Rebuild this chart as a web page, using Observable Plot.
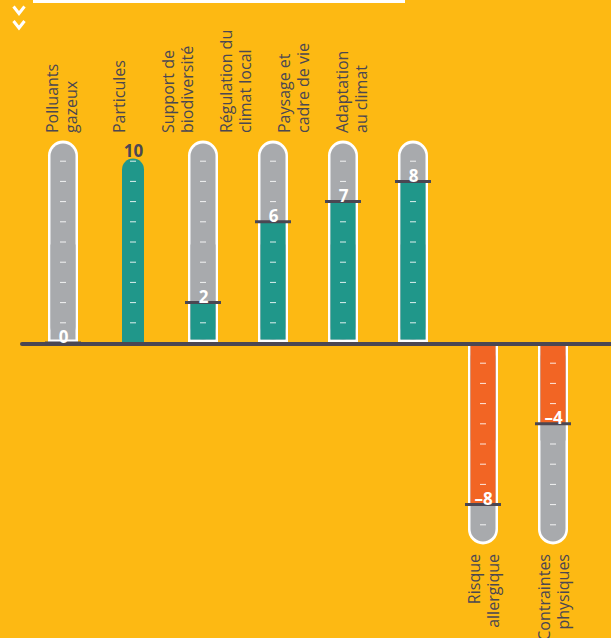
<!DOCTYPE html>
<html><head><meta charset="utf-8">
<script src="https://cdn.jsdelivr.net/npm/d3@7"></script>
<script src="https://cdn.jsdelivr.net/npm/@observablehq/plot@0.6"></script>
<style>
html,body{margin:0;padding:0;background:#FDB913;}
#wrap{position:relative;width:611px;height:638px;overflow:hidden;background:#FDB913;font-family:"Open Sans",sans-serif;}
#wrap svg{position:absolute;top:0;left:0;}
#strip{position:absolute;top:0;left:33px;width:372px;height:3px;background:#fff;}
</style></head><body>
<div id="wrap"><div id="strip"></div>
<svg width="40" height="40" style="position:absolute;top:0;left:0;z-index:2">
<polyline points="13.5,6.5 19,13.5 24.5,6.5" fill="none" stroke="#fff" stroke-width="3"/>
<polyline points="13.5,21 19,28 24.5,21" fill="none" stroke="#fff" stroke-width="3"/>
</svg>
</div>
<script>
// ---- data ----
const categories = ["Polluants\ngazeux","Particules","Support de\nbiodiversité","Régulation du\nclimat local","Paysage et\ncadre de vie","Adaptation\nau climat","Risque\nallergique","Contraintes\nphysiques"];
const values = [0, 10, 2, 6, 7, 8, -8, -4];
const gradations = [1, 2, 3, 4, 5, 6, 7, 8, 9];
const scaleMax = 10;

// ---- styles ----
const TEAL = "#20978A", ORANGE = "#F26524", GRAY = "#A8AAAD", DARK = "#4B4752";

const data = categories.map((name, i) => ({name, value: values[i], dir: values[i] < 0 ? -1 : 1}));
const isFull = d => Math.abs(d.value) === scaleMax;
const partial = data.filter(d => !isFull(d));
const fullData = data.filter(isFull);
const ticks = data.flatMap(d => gradations.map(g => ({name: d.name, y: g * d.dir})));
const topData = data.filter(d => d.value >= 0);
const bottomData = data.filter(d => d.value < 0);
const fmt = d => (d.value < 0 ? "\u2013" + Math.abs(d.value) : String(d.value));

const yScale = {domain: [-scaleMax, scaleMax], range: [544.5, 140.5], axis: null};
const xScale = {type: "band", domain: categories, range: [25, 591], paddingInner: 0.576, paddingOuter: 0.288, axis: null};
const common = {width: 611, height: 638, marginLeft: 22, marginRight: 0, marginTop: 0, marginBottom: 0,
  style: {background: "transparent", fontFamily: "Open Sans, sans-serif", overflow: "visible"}};

const main = Plot.plot({
  ...common,
  x: xScale,
  y: yScale,
  marks: [
    // white outer tube
    Plot.barY(partial, {x: "name", y1: d => 0, y2: d => d.dir * scaleMax, fill: "#fff", rx: 15}),
    Plot.barY(partial, {x: "name", y1: d => 0, y2: d => d.dir * scaleMax / 2, fill: "#fff"}),
    // grey inner tube
    Plot.barY(partial, {x: "name", y1: d => 0, y2: d => d.dir * scaleMax, fill: GRAY, rx: 12.5, insetLeft: 2.5, insetRight: 2.5, insetTop: 3, insetBottom: 3}),
    Plot.barY(partial, {x: "name", y1: d => 0, y2: d => d.dir * scaleMax / 2, fill: GRAY, insetLeft: 2.5, insetRight: 2.5, insetTop: 3, insetBottom: 3}),
    // fill
    Plot.barY(partial.filter(d => d.value > 0), {x: "name", y1: d => 0, y2: "value", fill: TEAL, insetLeft: 2.5, insetRight: 2.5, insetBottom: 3}),
    Plot.barY(partial.filter(d => d.value < 0), {x: "name", y1: d => 0, y2: "value", fill: ORANGE, insetLeft: 2.5, insetRight: 2.5, insetTop: 3}),
    // full tubes (no glass outline)
    Plot.barY(fullData, {x: "name", y1: d => 0, y2: "value", fill: d => d.value > 0 ? TEAL : ORANGE, rx: 11, insetLeft: 4, insetRight: 4, insetTop: 18}),
    Plot.barY(fullData, {x: "name", y1: d => 0, y2: d => d.value / 2, fill: d => d.value > 0 ? TEAL : ORANGE, insetLeft: 4, insetRight: 4}),
    // gradations
    Plot.tickY(ticks, {x: "name", y: "y", stroke: "#fff", strokeOpacity: 0.85, strokeWidth: 1, insetLeft: 12, insetRight: 12}),
    // baseline
    Plot.ruleY([0], {stroke: DARK, strokeWidth: 4, strokeLinecap: "round", dy: 1}),
    // value markers
    Plot.tickY(partial, {x: "name", y: "value", stroke: DARK, strokeWidth: 3, insetLeft: -3, insetRight: -3}),
    Plot.text(partial, {x: "name", y: "value", text: fmt, fill: "#fff", fontWeight: "bold", fontSize: 17, dy: -5}),
    Plot.text(fullData, {x: "name", y: "value", text: fmt, fill: DARK, fontWeight: "bold", fontSize: 17, dy: 11}),
    // bottom labels
    Plot.text(bottomData, {x: "name", y: d => -scaleMax, text: "name", rotate: -90, textAnchor: "end", dy: 9, fontSize: 16, fill: DARK, lineHeight: 1.2})
  ]
});

const labels = Plot.plot({
  ...common,
  x: {type: "point", domain: topData.map(d => d.name), range: [61, 351], padding: 0, axis: null},
  y: yScale,
  marks: [
    Plot.text(topData, {x: "name", y: d => scaleMax, text: "name", rotate: -90, textAnchor: "start", dy: -8, fontSize: 16, fill: DARK, lineHeight: 1.15})
  ]
});

const wrap = document.getElementById("wrap");
wrap.appendChild(main);
wrap.appendChild(labels);
</script>
</body></html>
